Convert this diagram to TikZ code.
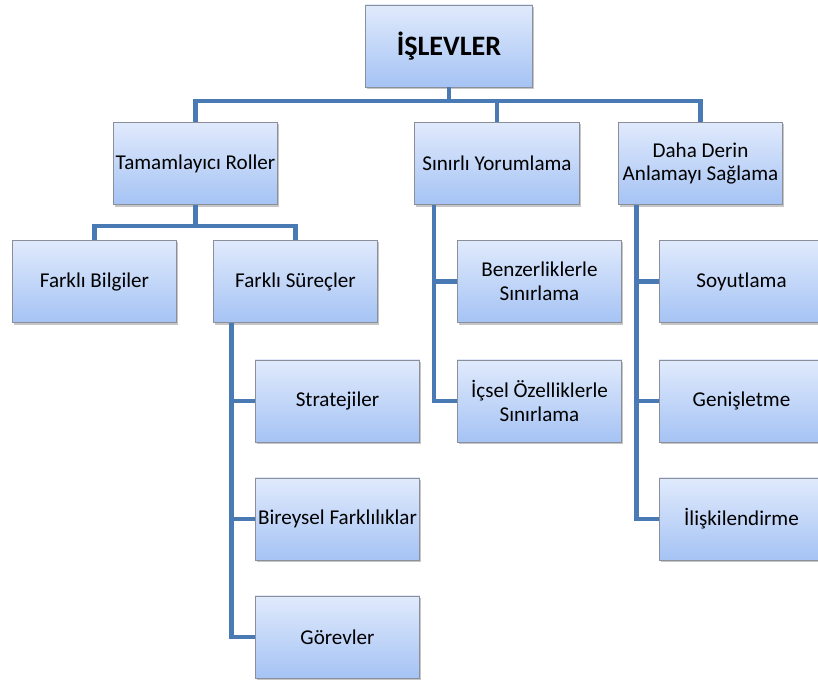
\documentclass[tikz,border=0pt]{standalone}
\usepackage{fontspec}
\setmainfont{Carlito}
\usetikzlibrary{shadows}

\definecolor{boxtop}{HTML}{E0EAFC}
\definecolor{boxbottom}{HTML}{A5C3F4}
\definecolor{boxline}{HTML}{8A8F99}
\definecolor{linkblue}{HTML}{4A7AB4}

\begin{document}
\begin{tikzpicture}[
  x=0.025cm, y=-0.025cm,
  every node/.style={rectangle, draw=boxline, line width=0.5pt,
    top color=boxtop, bottom color=boxbottom,
    drop shadow={shadow xshift=1.2pt, shadow yshift=-1.4pt, opacity=0.45},
    minimum width=117pt, minimum height=58.5pt, align=center,
    font=\fontsize{15}{17}\selectfont, inner sep=1pt},
  link/.style={draw=linkblue, line width=3.4pt}
]
  \useasboundingbox (0,0) rectangle (818,687);
  \node[minimum width=119pt, font=\fontsize{20}{24}\selectfont\bfseries] (islev) at (449, 46) {İŞLEVLER};
  \node (tamam) at (195.5, 163.5) {Tamamlayıcı Roller};
  \node (sinir) at (497, 163.5) {Sınırlı Yorumlama};
  \node (derin) at (700.5, 163.5) {Daha Derin\\Anlamayı Sağlama};
  \node (bilgi) at (94.5, 281.5) {Farklı Bilgiler};
  \node (surec) at (295.5, 281.5) {Farklı Süreçler};
  \node (benzer) at (539.5, 281.5) {Benzerliklerle\\Sınırlama};
  \node (icsel) at (539.5, 401) {İçsel Özelliklerle\\Sınırlama};
  \node (soyut) at (741.5, 281.5) {Soyutlama};
  \node (genis) at (741.5, 401) {Genişletme};
  \node (iliski) at (741.5, 519) {İlişkilendirme};
  \node (strat) at (337.5, 401) {Stratejiler};
  \node (birey) at (337.5, 519) {Bireysel Farklılıklar};
  \node (gorev) at (337.5, 637) {Görevler};
  \draw[link] (islev.south) -- ++(0,13.5) -| (tamam.north);
  \draw[link] (islev.south) -- ++(0,13.5) -| (sinir.north);
  \draw[link] (islev.south) -- ++(0,13.5) -| (derin.north);
  \draw[link] (tamam.south) -- ++(0,21) -| (bilgi.north);
  \draw[link] (tamam.south) -- ++(0,21) -| (surec.north);
  \draw[link] ([xshift=13.5pt]surec.south west) |- (strat.west);
  \draw[link] ([xshift=13.5pt]surec.south west) |- (birey.west);
  \draw[link] ([xshift=13.5pt]surec.south west) |- (gorev.west);
  \draw[link] ([xshift=14pt]sinir.south west) |- (benzer.west);
  \draw[link] ([xshift=14pt]sinir.south west) |- (icsel.west);
  \draw[link] ([xshift=13.5pt]derin.south west) |- (soyut.west);
  \draw[link] ([xshift=13.5pt]derin.south west) |- (genis.west);
  \draw[link] ([xshift=13.5pt]derin.south west) |- (iliski.west);
\end{tikzpicture}
\end{document}
